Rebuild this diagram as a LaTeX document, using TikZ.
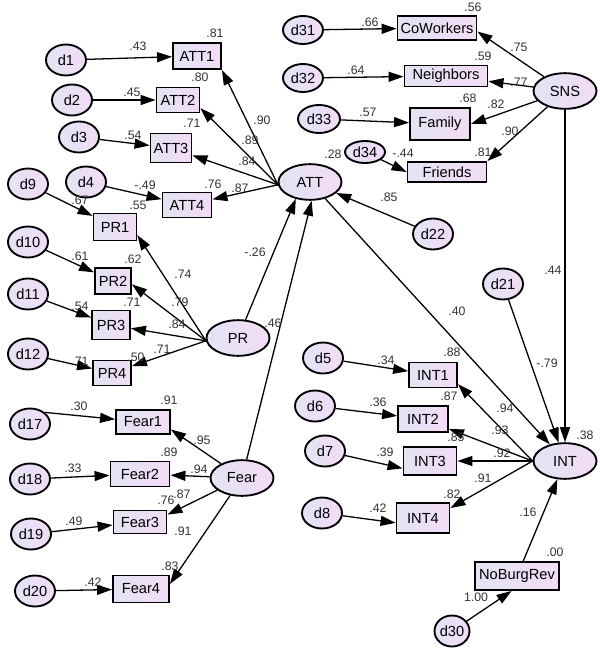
\documentclass[tikz,border=0pt]{standalone}
\usepackage{fontspec}
\setmainfont{Liberation Sans}
\usetikzlibrary{shapes.geometric,arrows.meta}
\definecolor{semleft}{RGB}{226,228,244}
\definecolor{semright}{RGB}{243,219,246}
\tikzset{
  latent/.style={ellipse, draw=black, line width=1.6pt, left color=semleft, right color=semright,
    minimum width=1.89cm, minimum height=1.07cm, inner sep=0pt, font=\fontsize{12.5}{12.5}\selectfont},
  errvar/.style={latent, minimum width=1.2cm, minimum height=0.93cm},
  observed/.style={rectangle, draw=black, line width=1.6pt, left color=semleft, right color=semright,
    inner sep=0pt, font=\fontsize{12.5}{12.5}\selectfont},
  coef/.style={font=\fontsize{10.5}{11}\selectfont, text=black!80, inner sep=0pt},
  link/.style={line width=1.1pt, -{Triangle[length=0.45cm,width=0.3cm]}},
}

\begin{document}
\begin{tikzpicture}[x=0.03cm, y=-0.03cm]
\useasboundingbox (0,0) rectangle (600,653);
% latent variables
\node[latent] (att) at (310,182) {ATT};
\node[latent] (pr) at (238,338) {PR};
\node[latent] (fear) at (242,478) {Fear};
\node[latent] (sns) at (565,91) {SNS};
\node[latent] (int) at (565,461) {INT};
% observed variables
\node[observed, minimum width=1.44cm, minimum height=0.78cm] (att1) at (197,56) {ATT1};
\node[observed, minimum width=1.29cm, minimum height=0.75cm] (att2) at (178,100) {ATT2};
\node[observed, minimum width=1.23cm, minimum height=0.87cm] (att3) at (171,148) {ATT3};
\node[observed, minimum width=1.47cm, minimum height=0.75cm] (att4) at (187,205) {ATT4};
\node[observed, minimum width=1.29cm, minimum height=0.81cm] (pr1) at (115,227) {PR1};
\node[observed, minimum width=1.08cm, minimum height=0.78cm] (pr2) at (113,281) {PR2};
\node[observed, minimum width=1.14cm, minimum height=0.87cm] (pr3) at (111,325) {PR3};
\node[observed, minimum width=1.14cm, minimum height=0.75cm] (pr4) at (112,373) {PR4};
\node[observed, minimum width=1.62cm, minimum height=0.72cm] (fear1) at (143,422) {Fear1};
\node[observed, minimum width=1.77cm, minimum height=0.75cm] (fear2) at (140,474) {Fear2};
\node[observed, minimum width=1.59cm, minimum height=0.69cm] (fear3) at (140,522) {Fear3};
\node[observed, minimum width=1.68cm, minimum height=0.81cm] (fear4) at (141,589) {Fear4};
\node[observed, minimum width=2.37cm, minimum height=0.72cm] (cow) at (437,28) {CoWorkers};
\node[observed, minimum width=2.49cm, minimum height=0.63cm] (nei) at (446,76) {Neighbors};
\node[observed, minimum width=1.80cm, minimum height=0.96cm] (fam) at (440,124) {Family};
\node[observed, minimum width=2.37cm, minimum height=0.60cm] (fri) at (447,172) {Friends};
\node[observed, minimum width=1.44cm, minimum height=0.75cm] (int1) at (433,375) {INT1};
\node[observed, minimum width=1.50cm, minimum height=0.78cm] (int2) at (423,419) {INT2};
\node[observed, minimum width=1.59cm, minimum height=0.84cm] (int3) at (430,461) {INT3};
\node[observed, minimum width=1.59cm, minimum height=0.90cm] (int4) at (423,518) {INT4};
\node[observed, minimum width=2.52cm, minimum height=0.84cm] (nbr) at (517,576) {NoBurgRev};
% error terms
\node[errvar] (d1) at (66,60) {d1};
\node[errvar] (d2) at (72,100) {d2};
\node[errvar] (d3) at (79,137) {d3};
\node[errvar] (d4) at (86,182) {d4};
\node[errvar] (d9) at (28,184) {d9};
\node[errvar] (d10) at (28,242) {d10};
\node[errvar] (d11) at (28,294) {d11};
\node[errvar] (d12) at (28,354) {d12};
\node[errvar] (d17) at (30,424) {d17};
\node[errvar] (d18) at (30,479) {d18};
\node[errvar] (d19) at (31,534) {d19};
\node[errvar] (d20) at (35,591) {d20};
\node[errvar] (d22) at (433,234) {d22};
\node[errvar] (d21) at (503,284) {d21};
\node[errvar] (d5) at (323,358) {d5};
\node[errvar] (d6) at (315,406) {d6};
\node[errvar] (d7) at (325,451) {d7};
\node[errvar] (d8) at (322,513) {d8};
\node[errvar, minimum width=1.05cm] (d30) at (452,631) {d30};
\node[errvar, minimum height=0.84cm] (d31) at (303,30) {d31};
\node[errvar, minimum height=0.84cm] (d32) at (303,78) {d32};
\node[errvar, minimum width=1.26cm, minimum height=0.84cm] (d33) at (319,119) {d33};
\node[errvar, minimum height=0.66cm] (d34) at (365,152) {d34};
% paths
\foreach \e/\o in {d1/att1,d2/att2,d3/att3,d4/att4,d9/pr1,d10/pr2,d11/pr3,d12/pr4,
    d18/fear2,d19/fear3,d20/fear4,d5/int1,d6/int2,
    d31/cow,d32/nei,d33/fam}
  \draw[link] (\e) -- (\o);
\draw[link] (d34) -- (fri.west);
\draw[link] (d7) -- (int3.195);
\draw[link] (d8) -- (int4.190);
\draw[link] (d17.north east) -- (fear1);
\draw[link] (d30) -- (nbr.250);
\draw[link] (att.185) -- (att1.south east);
\draw[link] (att.185) -- (att2.-20);
\draw[link] (att.185) -- (att3);
\draw[link] (att.185) -- (att4);
\draw[link] (pr.185) -- (pr1.-20);
\draw[link] (pr.185) -- (pr2.-10);
\draw[link] (pr.185) -- (pr3);
\draw[link] (pr.185) -- (pr4);
\draw[link] (fear) -- (fear1.-15);
\draw[link] (fear) -- (fear2);
\draw[link] (fear) -- (fear3.15);
\draw[link] (fear) -- (fear4.10);
\draw[link] (sns) -- (cow.-5);
\draw[link] (sns) -- (nei);
\draw[link] (sns) -- (fam.east);
\draw[link] (sns) -- (fri.north east);
\draw[link] (int.west) -- (int1.-20);
\draw[link] (int.west) -- (int2);
\draw[link] (int.west) -- (int3);
\draw[link] (int.west) -- (int4.20);
\draw[link] (pr) -- (att.230);
\draw[link] (fear) -- (att.275);
\draw[link] (d22) -- (att);
\draw[link] (att) -- (int);
\draw[link] (sns) -- (int);
\draw[link] (d21) -- (int);
\draw[link] (nbr) -- (int);
% estimates, ATT block
\node[coef] (r-att1) at (215,33) {.81};
\node[coef] (e-att1) at (138,46) {.43};
\node[coef] (r-att2) at (200,77) {.80};
\node[coef] (e-att2) at (132,92) {.45};
\node[coef] (r-att3) at (192,123) {.71};
\node[coef] (e-att3) at (133,135) {.54};
\node[coef] (e-att4) at (145,185) {-.49};
\node[coef] (r-pr1) at (138,205) {.55};
\node[coef] (r-att4) at (213,184) {.76};
\node[coef] (l-att4) at (240,188) {.87};
\node[coef] (l-att1) at (262,120) {.90};
\node[coef] (l-att2) at (250,140) {.89};
\node[coef] (l-att3) at (247,161) {.84};
\node[coef] (r-att) at (333,154) {.28};
\node[coef] (e-att) at (389,197) {.85};
% estimates, PR block
\node[coef] (e-pr1) at (80,200) {.67};
\node[coef] (e-pr2) at (80,256) {.61};
\node[coef] (r-pr2) at (133,259) {.62};
\node[coef] (e-pr3) at (80,306) {.54};
\node[coef] (r-pr3) at (132,302) {.71};
\node[coef] (e-pr4) at (80,361) {.71};
\node[coef] (r-pr4) at (136,357) {.50};
\node[coef] (l-pr1) at (183,274) {.74};
\node[coef] (l-pr2) at (180,302) {.79};
\node[coef] (l-pr3) at (177,324) {.84};
\node[coef] (l-pr4) at (162,349) {.71};
\node[coef] (b-pr) at (255,252) {-.26};
\node[coef] (b-fear) at (273,323) {.46};
% estimates, Fear block
\node[coef] (r-fear1) at (169,400) {.91};
\node[coef] (e-fear1) at (79,406) {.30};
\node[coef] (l-fear1) at (202,440) {.95};
\node[coef] (r-fear2) at (169,452) {.89};
\node[coef] (e-fear2) at (73,468) {.33};
\node[coef] (l-fear2) at (199,469) {.94};
\node[coef] (r-fear3) at (166,500) {.76};
\node[coef] (l-fear3) at (182,494) {.87};
\node[coef] (e-fear3) at (74,521) {.49};
\node[coef] (l-fear4) at (183,531) {.91};
\node[coef] (r-fear4) at (170,566) {.83};
\node[coef] (e-fear4) at (93,582) {.42};
% estimates, SNS block
\node[coef] (r-cow) at (473,7) {.56};
\node[coef] (e-cow) at (370,22) {.66};
\node[coef] (l-cow) at (519,47) {.75};
\node[coef] (r-nei) at (483,56) {.59};
\node[coef] (e-nei) at (356,70) {.64};
\node[coef] (l-nei) at (519,82) {.77};
\node[coef] (r-fam) at (468,98) {.68};
\node[coef] (l-fam) at (496,104) {.82};
\node[coef] (e-fam) at (368,112) {.57};
\node[coef] (l-fri) at (510,131) {.90};
\node[coef] (r-fri) at (483,152) {.81};
\node[coef] (e-fri) at (403,153) {-.44};
% estimates, INT block
\node[coef] (b-sns) at (553,270) {.44};
\node[coef] (b-att) at (457,311) {.40};
\node[coef] (e-int) at (547,363) {-.79};
\node[coef] (e-int1) at (386,360) {.34};
\node[coef] (r-int1) at (452,352) {.88};
\node[coef] (r-int2) at (449,396) {.87};
\node[coef] (e-int2) at (378,402) {.36};
\node[coef] (l-int1) at (505,408) {.94};
\node[coef] (l-int2) at (500,430) {.93};
\node[coef] (r-int3) at (456,437) {.85};
\node[coef] (l-int3) at (502,453) {.92};
\node[coef] (e-int3) at (385,452) {.39};
\node[coef] (r-int) at (585,435) {.38};
\node[coef] (l-int4) at (483,478) {.91};
\node[coef] (r-int4) at (452,494) {.82};
\node[coef] (e-int4) at (378,508) {.42};
\node[coef] (b-nbr) at (528,512) {.16};
\node[coef] (r-nbr) at (555,552) {.00};
\node[coef] (e-nbr) at (476,597) {1.00};
\end{tikzpicture}
\end{document}
